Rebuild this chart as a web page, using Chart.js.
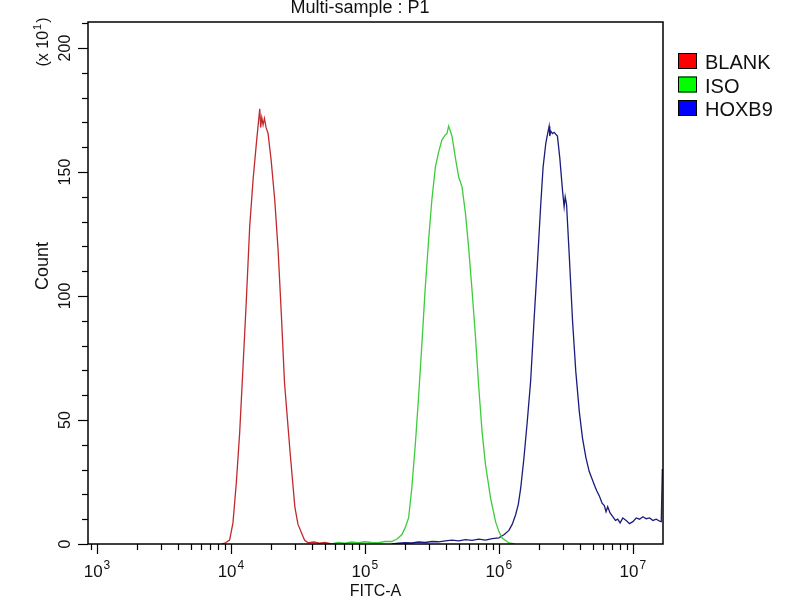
<!DOCTYPE html>
<html>
<head>
<meta charset="utf-8">
<script src="https://cdn.jsdelivr.net/npm/chart.js@4.4.1/dist/chart.umd.min.js"></script>
<style>
  body { margin: 0; background: #fff; }
  #wrap { width: 800px; height: 600px; position: relative; }
</style>
</head>
<body>
<div id="wrap"><canvas id="histo"></canvas></div>
<script>
// FITC-A channel, in decades (log10 of the value), and counts in units of 10
const blankX = [3.93, 3.96, 3.99, 4.015, 4.04, 4.065, 4.09, 4.115, 4.14, 4.165, 4.19, 4.205, 4.215, 4.222, 4.23, 4.24, 4.25, 4.262, 4.277, 4.30, 4.327, 4.352, 4.377, 4.40, 4.44, 4.477, 4.50, 4.527, 4.55, 4.577, 4.62, 4.66, 4.70, 4.75];
const blankY = [0, 0.5, 1.6, 8.5, 24.6, 44.7, 71.4, 98.4, 128, 146.8, 161.7, 170, 175.5, 168, 172, 169, 171.6, 168, 165.6, 154.8, 138.7, 118.5, 91.7, 64.9, 37.9, 15, 8, 4.4, 1.5, 0.5, 0.8, 0.3, 0.6, 0];

const isoX = [4.75, 4.80, 4.85, 4.90, 4.95, 5.00, 5.05, 5.10, 5.15, 5.20, 5.24, 5.276, 5.30, 5.326, 5.35, 5.376, 5.40, 5.425, 5.45, 5.476, 5.50, 5.526, 5.55, 5.575, 5.60, 5.612, 5.625, 5.638, 5.65, 5.676, 5.70, 5.725, 5.75, 5.775, 5.80, 5.826, 5.85, 5.875, 5.90, 5.938, 5.975, 6.00, 6.025, 6.075, 6.12];
const isoY = [0, 0.6, 0.3, 0.8, 0.5, 0.9, 0.6, 0.5, 1.0, 1.0, 2.0, 3.8, 6.5, 10.5, 22.6, 40, 58.9, 80.4, 103, 123, 139, 152, 158, 163, 165, 165.5, 168.5, 166.5, 164.5, 155.5, 148, 144, 133.5, 119, 102, 83, 63, 45, 32, 18.5, 9, 5, 2.4, 0.4, 0];

const hoxb9X = [5.20, 5.25, 5.30, 5.35, 5.40, 5.45, 5.50, 5.55, 5.60, 5.65, 5.70, 5.75, 5.80, 5.85, 5.90, 5.95, 6.00, 6.04, 6.075, 6.10, 6.125, 6.145, 6.163, 6.187, 6.212, 6.237, 6.262, 6.287, 6.312, 6.33, 6.35, 6.362, 6.375, 6.38, 6.387, 6.40, 6.412, 6.437, 6.455, 6.475, 6.487, 6.495, 6.505, 6.525, 6.55, 6.574, 6.60, 6.624, 6.65, 6.674, 6.69, 6.712, 6.73, 6.749, 6.77, 6.787, 6.80, 6.812, 6.83, 6.85, 6.87, 6.887, 6.905, 6.925, 6.95, 6.975, 7.00, 7.025, 7.05, 7.075, 7.10, 7.125, 7.15, 7.175, 7.20, 7.212, 7.22, 7.225];
const hoxb9Y = [0, 0.3, 0.5, 0.4, 0.8, 0.6, 1.0, 0.9, 1.3, 1.6, 1.3, 1.8, 1.5, 2.0, 1.6, 2.2, 2.5, 3.8, 5.5, 8, 11.8, 16, 22.6, 34.7, 49.5, 65.6, 89.8, 112.6, 136.5, 152, 161.5, 165, 168.5, 164.5, 166.5, 165.5, 166, 164.5, 155.5, 142.5, 136, 140, 137, 116.7, 89.8, 69.6, 53.5, 42.7, 34.7, 29.3, 27, 23.9, 21.5, 19.5, 16.5, 15.5, 13, 15, 12.5, 11, 9.5, 10, 8.5, 10.5, 9.5, 8.2, 9, 10.5, 10, 11, 10.2, 10.5, 9.5, 10, 9.2, 9, 30, 30];

const seriesNames = ['BLANK', 'ISO', 'HOXB9'];
const lineColors = ['#c02a2e', '#3ccc3c', '#1c1c7c'];
const boxColors = ['#ff0000', '#00ff00', '#0000ff'];

const xDecades = [3, 4, 5, 6, 7];
const yTickLabels = [0, 50, 100, 150, 200];
const yMinorStep = 10;
const xMin = 2.933, xMax = 7.225;
const yMax = 210.5;

function points(xs, ys) {
    return xs.map((v, i) => ({ x: v, y: ys[i] }));
}

const FONT = 'px "Liberation Sans", Arial, sans-serif';

// draws base text plus a small raised exponent (and optional tail), centred on (0,0)
function powerLabel(ctx, base, exp, tail, baseSize, expSize, rise) {
    ctx.font = baseSize + FONT;
    const bw = ctx.measureText(base).width;
    const tw = tail ? ctx.measureText(tail).width + 1 : 0;
    ctx.font = expSize + FONT;
    const ew = ctx.measureText(exp).width;
    const start = -(bw + ew + tw + 1) / 2;
    ctx.textAlign = 'left';
    ctx.font = baseSize + FONT;
    ctx.fillText(base, start, 0);
    if (tail) ctx.fillText(tail, start + bw + ew + 2, 0);
    ctx.font = expSize + FONT;
    ctx.fillText(exp, start + bw + 1, -rise);
}

const framePlugin = {
    id: 'frame',
    afterDatasetsDraw(chart) {
        const { ctx, chartArea: a, scales: { x, y } } = chart;
        ctx.save();
        ctx.strokeStyle = '#000';
        ctx.fillStyle = '#111';
        ctx.lineWidth = 1.5;
        ctx.strokeRect(a.left, a.top, a.right - a.left, a.bottom - a.top);

        // y ticks
        ctx.lineWidth = 1.2;
        for (let v = 0; v <= yMax; v += yMinorStep) {
            const py = Math.round(y.getPixelForValue(v)) + 0.5;
            const len = yTickLabels.includes(v) ? 10 : 6;
            ctx.beginPath();
            ctx.moveTo(a.left, py);
            ctx.lineTo(a.left - len, py);
            ctx.stroke();
        }
        // x ticks, 1..9 per decade
        for (let d = 2; d <= 7; d++) {
            for (let k = 1; k <= 9; k++) {
                const lv = d + Math.log10(k);
                if (lv < xMin || lv > xMax) continue;
                const px = Math.round(x.getPixelForValue(lv)) + 0.5;
                const len = k === 1 ? 10 : 6;
                ctx.beginPath();
                ctx.moveTo(px, a.bottom);
                ctx.lineTo(px, a.bottom + len);
                ctx.stroke();
            }
        }

        // x tick labels
        ctx.textBaseline = 'alphabetic';
        xDecades.forEach(d => {
            ctx.save();
            ctx.translate(x.getPixelForValue(d), a.bottom + 33);
            powerLabel(ctx, '10', String(d), '', 17, 12, 8);
            ctx.restore();
        });

        // y tick labels, rotated
        yTickLabels.forEach(v => {
            ctx.save();
            ctx.translate(70, y.getPixelForValue(v));
            ctx.rotate(-Math.PI / 2);
            ctx.textAlign = 'center';
            ctx.font = 16 + FONT;
            ctx.fillText(String(v), 0, 0);
            ctx.restore();
        });

        // axis titles
        ctx.save();
        ctx.translate(48, 266);
        ctx.rotate(-Math.PI / 2);
        ctx.textAlign = 'center';
        ctx.font = 18 + FONT;
        ctx.fillText('Count', 0, 0);
        ctx.restore();

        ctx.save();
        ctx.translate(48, 42);
        ctx.rotate(-Math.PI / 2);
        powerLabel(ctx, '(x 10', '1', ')', 16, 11, 7);
        ctx.restore();

        ctx.textAlign = 'center';
        ctx.font = 16 + FONT;
        ctx.fillText('FITC-A', (a.left + a.right) / 2, 596);

        ctx.font = 18 + FONT;
        ctx.fillText('Multi-sample : P1', 360, 13);

        // legend
        ctx.textAlign = 'left';
        ctx.font = 20 + FONT;
        seriesNames.forEach((name, i) => {
            const top = 53 + i * 23.5;
            ctx.fillStyle = boxColors[i];
            ctx.fillRect(678, top, 19, 16);
            ctx.strokeStyle = '#000';
            ctx.lineWidth = 1;
            ctx.strokeRect(678.5, top + 0.5, 18, 15);
            ctx.fillStyle = '#111';
            ctx.fillText(name, 705, top + 16);
        });
        ctx.restore();
    }
};

const sets = [[blankX, blankY], [isoX, isoY], [hoxb9X, hoxb9Y]];

new Chart(document.getElementById('histo'), {
    type: 'line',
    data: {
        datasets: sets.map((s, i) => ({
            label: seriesNames[i],
            data: points(s[0], s[1]),
            borderColor: lineColors[i],
            borderWidth: 1.3,
            pointRadius: 0,
            tension: 0,
            fill: false
        }))
    },
    options: {
        responsive: true,
        maintainAspectRatio: false,
        animation: false,
        layout: { padding: { left: 88, right: 137, top: 22, bottom: 56 } },
        scales: {
            x: { type: 'linear', min: xMin, max: xMax, display: false },
            y: { type: 'linear', min: 0, max: yMax, display: false }
        },
        plugins: {
            legend: { display: false },
            tooltip: { enabled: false }
        }
    },
    plugins: [framePlugin]
});
</script>
</body>
</html>
